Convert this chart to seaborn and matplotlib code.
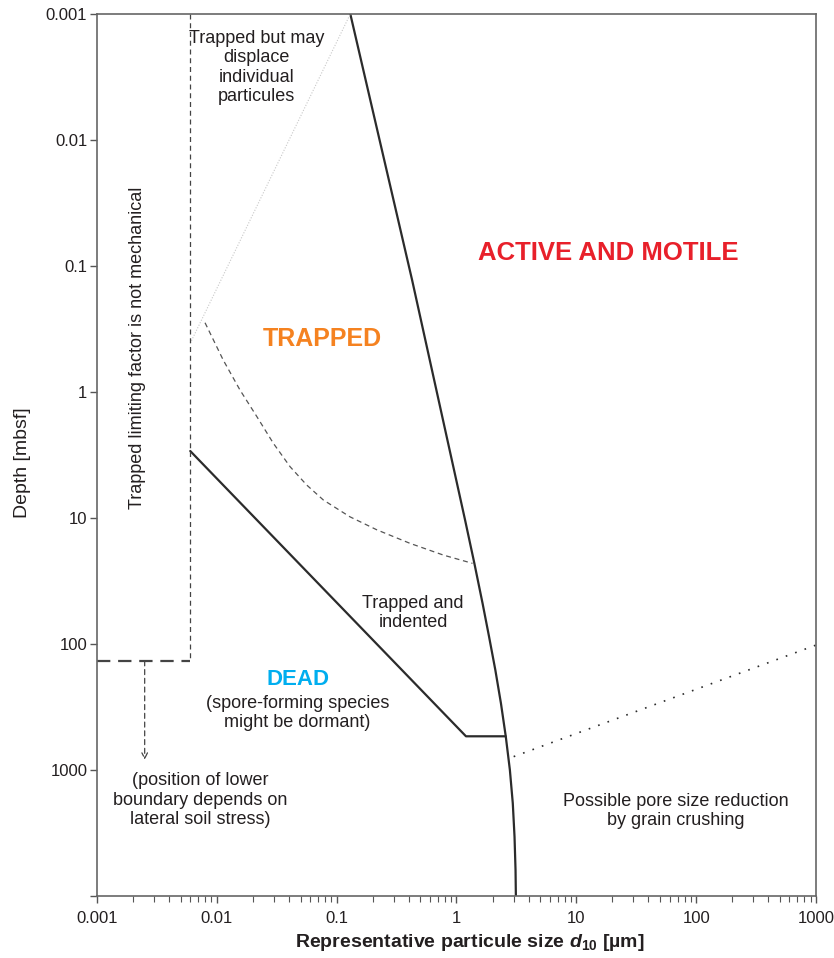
import matplotlib
matplotlib.use("Agg")
import matplotlib.pyplot as plt
import seaborn as sns
import pandas as pd

# particle size (um) / depth (mbsf)
size_ticks = [0.001, 0.01, 0.1, 1, 10, 100, 1000]
size_labels = ["0.001", "0.01", "0.1", "1", "10", "100", "1000"]
depth_ticks = [0.001, 0.01, 0.1, 1, 10, 100, 1000, 10000]
depth_labels = ["0.001", "0.01", "0.1", "1", "10", "100", "1000", ""]

# active / trapped boundary
motile_x = [0.13, 0.426, 1.18, 1.41, 1.65, 1.87, 2.11, 2.35, 2.58, 2.79, 2.95, 3.05, 3.11, 3.13]
motile_y = [0.001, 0.129, 10.4, 22.9, 47.5, 87.5, 161, 296, 545, 1000, 1837, 3380, 6220, 10000]

# trapped / dead boundary
dead_x = [0.006, 1.20, 2.57]
dead_y = [2.94, 540, 540]

# lower limit of the "trapped but may displace" zone
trapped_x = [0.00797, 0.0113, 0.0156, 0.0216, 0.0296, 0.0409, 0.0562, 0.0775,
             0.129, 0.216, 0.410, 0.778, 1.36]
trapped_y = [0.282, 0.557, 0.964, 1.57, 2.55, 3.92, 5.47, 7.2, 9.78, 12.4, 15.9, 19.7, 22.9]

# faint displacement boundary
displace_x = [0.006, 0.13]
displace_y = [0.41, 0.001]

# grain crushing onset
crush_x = [3.0, 1000]
crush_y = [783, 102]

# non-mechanical limit
limit_x = 0.006
limit_depth = 136
arrow_x = 0.0025
arrow_end = 830

sns.set_style("ticks")
plt.rcParams["font.family"] = ["Liberation Sans", "DejaVu Sans"]
plt.rcParams["mathtext.fontset"] = "custom"
plt.rcParams["mathtext.rm"] = "Liberation Sans:bold"
plt.rcParams["mathtext.it"] = "Liberation Sans:bold:italic"
plt.rcParams["mathtext.bf"] = "Liberation Sans:bold"
txt = "#231f20"

fig = plt.figure(figsize=(8.34, 9.58), dpi=100)
ax = fig.add_axes([0.1163, 0.0647, 0.8621, 0.9207])


def line(xs, ys, **kw):
    df = pd.DataFrame({"x": xs, "y": ys})
    sns.lineplot(data=df, x="x", y="y", sort=False, estimator=None, ax=ax, **kw)


line(motile_x, motile_y, color="#2b2b2b", linewidth=1.6)
line(dead_x, dead_y, color="#2b2b2b", linewidth=1.6)
line(trapped_x, trapped_y, color="#555555", linewidth=0.9, linestyle=(0, (4, 3)))
line(displace_x, displace_y, color="#c8c8c8", linewidth=0.8, linestyle=(0, (1, 1.5)))
line(crush_x, crush_y, color="#2b2b2b", linewidth=1.2, linestyle=(0, (1, 5)))
line([limit_x, limit_x], [0.001, limit_depth], color="#444444", linewidth=0.9,
     linestyle=(0, (4, 3)))
line([0.001, limit_x], [limit_depth, limit_depth], color="#444444", linewidth=1.6,
     linestyle=(0, (6, 3.5)))
ax.annotate("", xy=(arrow_x, arrow_end), xytext=(arrow_x, limit_depth),
            arrowprops=dict(arrowstyle="->", color="#444444", lw=0.9,
                            linestyle=(0, (4, 3)), shrinkA=0, shrinkB=0))

ax.set_xscale("log")
ax.set_yscale("log")
ax.set_xlim(0.001, 1000)
ax.set_ylim(10000, 0.001)
ax.set_xticks(size_ticks)
ax.set_xticklabels(size_labels)
ax.set_yticks(depth_ticks)
ax.set_yticklabels(depth_labels)
ax.yaxis.set_minor_locator(matplotlib.ticker.NullLocator())
ax.tick_params(axis="both", which="major", length=5, width=1, color="#555555",
               labelsize=12, labelcolor=txt, direction="out")
ax.tick_params(axis="x", which="major", pad=6)
ax.tick_params(axis="y", which="major", pad=2)
ax.tick_params(axis="x", which="minor", length=4, width=0.8, color="#555555")
for s in ax.spines.values():
    s.set_visible(True)
    s.set_color("#666666")
    s.set_linewidth(1.2)

ax.set_xlabel(r"Representative particule size $d_{\mathregular{10}}$ [µm]", fontsize=14,
              fontweight="bold", color=txt)
ax.xaxis.set_label_coords(0.519, -0.041)
ax.set_ylabel("Depth [mbsf]", fontsize=14, color=txt)
ax.yaxis.set_label_coords(-0.092, 0.491)

kw = dict(ha="center", va="center", color=txt, fontsize=13, linespacing=1.2)
ax.text(0.0215, 0.00266, "Trapped but may\ndisplace\nindividual\nparticules", **kw)
ax.text(0.435, 56.8, "Trapped and\nindented", **kw)
ax.text(0.0472, 353, "(spore-forming species\nmight be dormant)", **kw)
ax.text(0.00724, 1730, "(position of lower\nboundary depends on\nlateral soil stress)", **kw)
ax.text(68, 2113, "Possible pore size reduction\nby grain crushing", **kw)
ax.text(0.00216, 0.448, "Trapped limiting factor is not mechanical", rotation=90, **kw)

big = dict(ha="center", va="center", fontweight="bold")
ax.text(18.4, 0.079, "ACTIVE AND MOTILE", color="#e8202a", fontsize=18.5, **big)
ax.text(0.0755, 0.38, "TRAPPED", color="#f58220", fontsize=18, **big)
ax.text(0.0472, 193, "DEAD", color="#00aeef", fontsize=16, **big)

fig.savefig("out.png", dpi=100)
